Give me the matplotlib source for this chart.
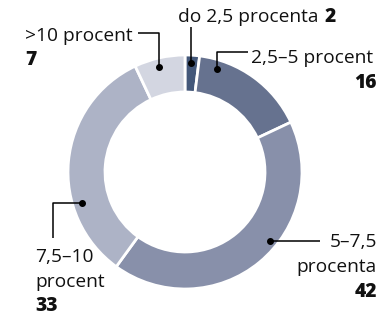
import matplotlib.pyplot as plt

plt.rcParams['font.family'] = ['Open Sans', 'DejaVu Sans']

kategorie = ['do 2,5 procenta', '2,5–5 procent', '5–7,5 procenta', '7,5–10 procent', '>10 procent']
wartosci = [2, 16, 42, 33, 7]
kolory = ['#44587a', '#66728f', '#8890aa', '#adb3c6', '#d3d6e1']

W, H = 379, 316
fig = plt.figure(figsize=(W / 100, H / 100), dpi=100)
ax = fig.add_axes([0, 0, 1, 1])

def y(p):
    return H - p

ax.pie(wartosci, colors=kolory, center=(185, y(172)), radius=117,
       startangle=90, counterclock=False, frame=True,
       wedgeprops=dict(width=37, edgecolor='white', linewidth=2))
ax.set_xlim(0, W)
ax.set_ylim(0, H)
ax.set_aspect('equal')
ax.axis('off')

fs = 13.8

def linia(punkty):
    xs = [p[0] for p in punkty]
    ys = [y(p[1]) for p in punkty]
    ax.plot(xs, ys, color='black', lw=1.1, solid_capstyle='butt')
    ax.plot(xs[0], ys[0], 'o', color='black', ms=4)

def napis(x, yy, s, ha='left', bold=False):
    ax.text(x, y(yy), s, fontsize=fs, ha=ha, va='baseline',
            fontweight='black' if bold else 'normal', color='#111111')

# do 2,5 procenta
linia([(191, 63), (191, 27)])
napis(178, 22, kategorie[0])
napis(325, 22, str(wartosci[0]), bold=True)

# 2,5-5 procent
linia([(217, 69), (217, 52), (248, 52)])
napis(251, 63, kategorie[1])
napis(377, 88, str(wartosci[1]), ha='right', bold=True)

# 5-7,5 procenta
linia([(270, 241), (320, 241)])
napis(377, 247, '5–7,5', ha='right')
napis(377, 272, 'procenta', ha='right')
napis(377, 297, str(wartosci[2]), ha='right', bold=True)

# 7,5-10 procent
linia([(82, 203), (53, 203), (53, 238)])
napis(35, 262, '7,5–10')
napis(35, 287, 'procent')
napis(35, 311, str(wartosci[3]), bold=True)

# >10 procent
linia([(159, 67), (159, 33), (138, 33)])
napis(25, 41, kategorie[4])
napis(25, 65, str(wartosci[4]), bold=True)

fig.savefig('out.png', dpi=100)
